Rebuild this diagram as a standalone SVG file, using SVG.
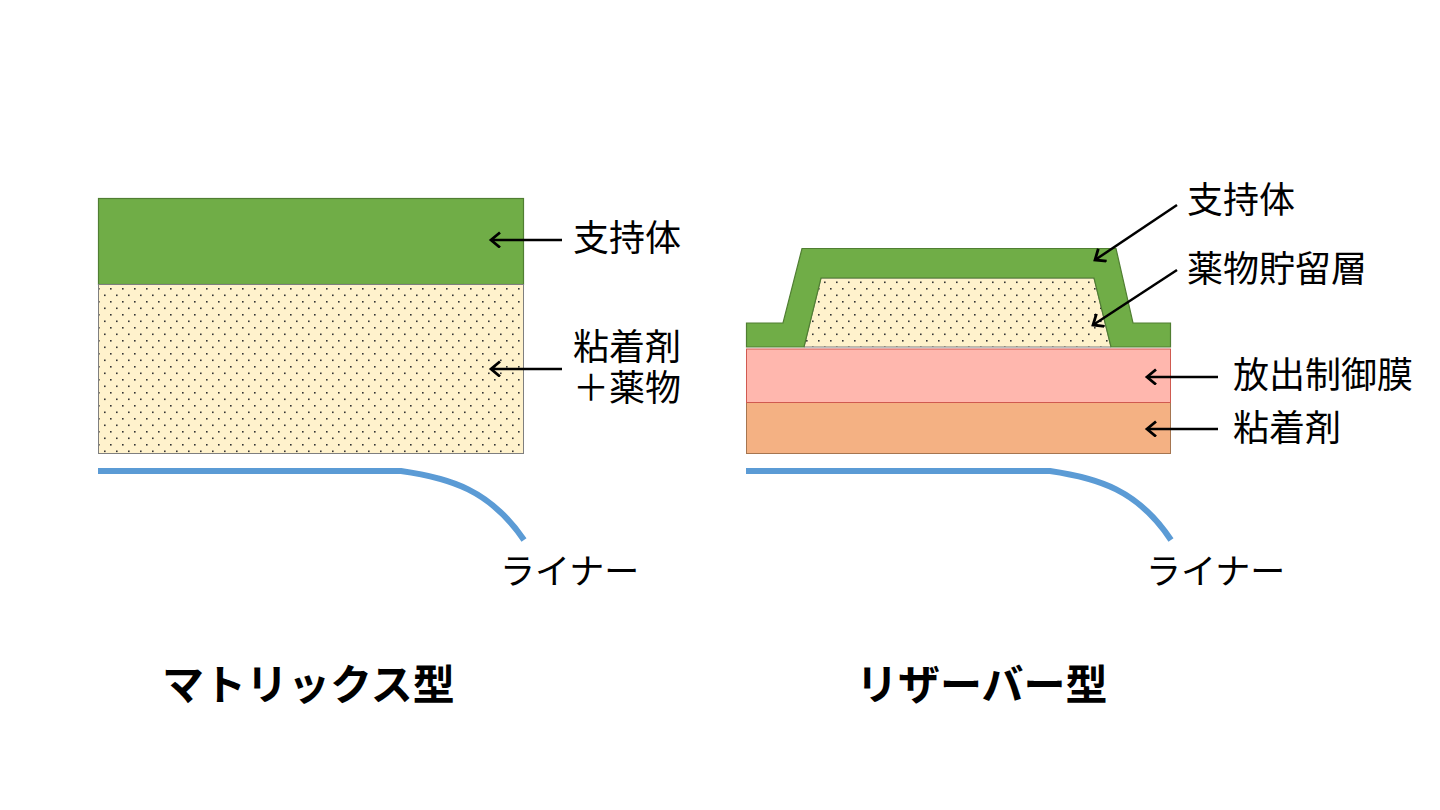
<svg xmlns="http://www.w3.org/2000/svg" width="1440" height="810" viewBox="0 0 1440 810">
<style>
.lbl{font-family:"Noto Sans CJK JP","Noto Sans",sans-serif;font-size:36px;fill:#000;dominant-baseline:central}
.lin{font-family:"Noto Sans CJK JP","Noto Sans",sans-serif;font-size:35px;fill:#000;dominant-baseline:central}
.ttl{font-family:"Noto Sans CJK JP","Noto Sans",sans-serif;font-size:42px;font-weight:bold;fill:#000;dominant-baseline:central}
.sup{fill:#70AD47;stroke:#507E32;stroke-width:1.2}
.drug{fill:url(#dots);stroke:#7F7F7F;stroke-width:1}
.liner{fill:none;stroke:#5B9BD5;stroke-width:6}
.arr{stroke:#000;stroke-width:2.5;fill:none;marker-end:url(#ah)}
</style>
<defs>
<pattern id="dots" patternUnits="userSpaceOnUse" width="12" height="13">
<rect width="12" height="13" fill="#FFF2CC"/>
<rect x="2" y="2" width="1.6" height="1.6" fill="#333"/>
<rect x="8" y="8.5" width="1.6" height="1.6" fill="#333"/>
</pattern>
<marker id="ah" markerUnits="userSpaceOnUse" markerWidth="20" markerHeight="20" refX="11" refY="8" orient="auto">
<path d="M2,0.5 L11,8 L2,15.5" fill="none" stroke="#000" stroke-width="2.8"/>
</marker>
</defs>
<rect width="1440" height="810" fill="#fff"/>

<g id="matrix">
<g id="m-support"><rect class="sup" x="98.5" y="198.5" width="425" height="86"/></g>
<g id="m-drug"><rect class="drug" x="98.5" y="284.5" width="425" height="169"/></g>
<g id="m-liner"><path class="liner" d="M98,471 L401,471 C450,478 490,490 524,540"/></g>
</g>

<g id="reservoir">
<g id="r-adhesive"><rect x="746.5" y="402.5" width="424" height="51" fill="#F4B183" stroke="#A57550" stroke-width="1"/></g>
<g id="r-membrane"><rect x="746.5" y="349" width="424" height="53.5" fill="#FFB7AE" stroke="#D05A50" stroke-width="1"/></g>
<g id="r-drug"><polygon class="drug" points="821,278 1094,278 1111,347 804,347"/></g>
<g id="r-support"><path class="sup" d="M746.5,323 L783,323 L802,248.5 L1116,248.5 L1133,323 L1170.5,323 L1170.5,347 L1111,347 L1094,278 L821,278 L804,347 L746.5,347 Z"/></g>
<g id="r-liner"><path class="liner" d="M746,471 L1050,471 C1098,478 1138,490 1171,540"/></g>
</g>

<g id="connectors">
<line class="arr" x1="562" y1="240" x2="491" y2="240"/>
<line class="arr" x1="562" y1="369" x2="491" y2="369"/>
<line class="arr" x1="1177" y1="205" x2="1095" y2="260"/>
<line class="arr" x1="1177" y1="270" x2="1093" y2="325"/>
<line class="arr" x1="1218" y1="377" x2="1147" y2="377"/>
<line class="arr" x1="1218" y1="429" x2="1147" y2="429"/>
</g>

<g id="labels">
<text class="lbl" x="573" y="235">支持体</text>
<text class="lbl"><tspan x="573" y="344">粘着剤</tspan><tspan x="573" y="385">＋薬物</tspan></text>
<text class="lin" x="500" y="568">ライナー</text>
<text class="lbl" x="1187" y="197">支持体</text>
<text class="lbl" x="1187" y="266">薬物貯留層</text>
<text class="lbl" x="1233" y="372">放出制御膜</text>
<text class="lbl" x="1233" y="425">粘着剤</text>
<text class="lin" x="1146" y="568">ライナー</text>
<text class="ttl" x="162" y="681">マトリックス型</text>
<text class="ttl" x="856" y="681">リザーバー型</text>
</g>
</svg>
